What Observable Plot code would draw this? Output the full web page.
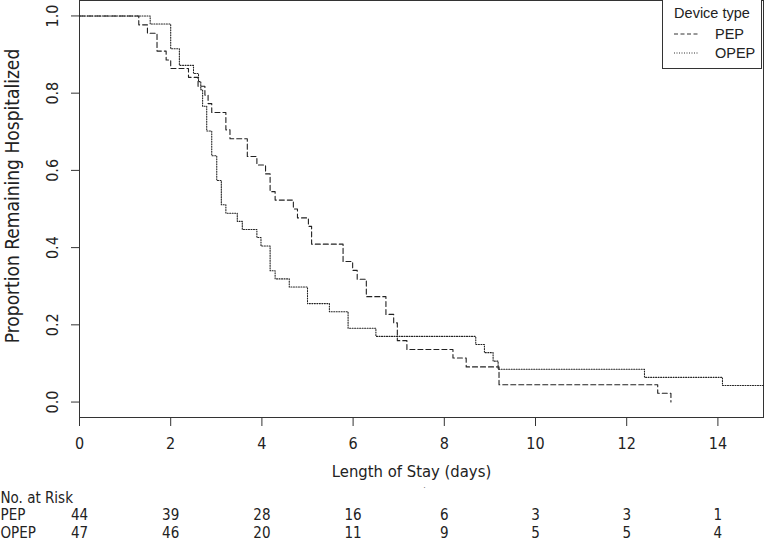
<!DOCTYPE html>
<html>
<head>
<meta charset="utf-8">
<script src="https://cdn.jsdelivr.net/npm/d3@7"></script>
<script src="https://cdn.jsdelivr.net/npm/@observablehq/plot@0.6"></script>
<style>
  html, body { margin: 0; padding: 0; background: #fff; }
  #wrap { position: relative; width: 764px; height: 542px; overflow: hidden; }
  #legend { position: absolute; left: 662px; top: -1px; width: 100px; height: 70px;
            border: 1px solid #333; background: #fff; box-sizing: border-box;
            font-family: "Liberation Sans", Arial, sans-serif; font-size: 14px; color: #222; }
</style>
</head>
<body>
<div id="wrap">
  <div id="chart"></div>
  <div id="legend">
    <svg width="100" height="70" style="position:absolute;left:-1px;top:0px">
      <text x="50" y="18" text-anchor="middle" font-size="14.5" fill="#222">Device type</text>
      <line x1="12" x2="36" y1="34" y2="34" stroke="#333" stroke-dasharray="4,2.5"></line>
      <text x="53" y="39" font-size="14.5" fill="#222">PEP</text>
      <line x1="12" x2="37" y1="53" y2="53" stroke="#333" stroke-dasharray="1,1.5"></line>
      <text x="53" y="58" font-size="14.5" fill="#222">OPEP</text>
    </svg>
  </div>
</div>
<script>
// Kaplan-Meier step data
const pepTime = [0, 1.30, 1.49, 1.70, 1.90, 2.00, 2.39, 2.60, 2.75, 2.82, 2.90, 3.21, 3.30, 3.68, 3.89, 4.08, 4.18, 4.29, 4.69, 4.78, 5.02, 5.09, 5.78, 5.99, 6.09, 6.29, 6.72, 6.89, 6.97, 7.18, 8.19, 8.48, 9.20, 12.68, 12.97];
const pepSurv = [1, 0.977, 0.955, 0.909, 0.886, 0.864, 0.841, 0.818, 0.795, 0.773, 0.750, 0.705, 0.682, 0.636, 0.614, 0.591, 0.545, 0.523, 0.500, 0.477, 0.455, 0.409, 0.364, 0.341, 0.318, 0.273, 0.227, 0.205, 0.159, 0.136, 0.114, 0.091, 0.045, 0.023, 0];
const opepTime = [0, 1.55, 2.00, 2.19, 2.50, 2.61, 2.66, 2.70, 2.79, 2.90, 3.01, 3.11, 3.21, 3.46, 3.57, 3.89, 3.98, 4.18, 4.29, 4.60, 5.00, 5.48, 5.89, 6.50, 8.69, 8.88, 9.07, 9.18, 12.39, 14.10, 15];
const opepSurv = [1, 0.979, 0.915, 0.872, 0.851, 0.830, 0.809, 0.766, 0.702, 0.638, 0.574, 0.511, 0.489, 0.468, 0.447, 0.426, 0.404, 0.340, 0.319, 0.298, 0.255, 0.234, 0.191, 0.170, 0.149, 0.128, 0.106, 0.085, 0.064, 0.043, 0.043];

const xTicks = [0, 2, 4, 6, 8, 10, 12, 14];
const yTicks = [0, 0.2, 0.4, 0.6, 0.8, 1.0];
const riskTimes = [0, 2, 4, 6, 8, 10, 12, 14];
const pepRisk = [44, 39, 28, 16, 6, 3, 3, 1];
const opepRisk = [47, 46, 20, 11, 9, 5, 5, 4];

const pep = pepTime.map((t, i) => ({t, s: pepSurv[i]}));
const opep = opepTime.map((t, i) => ({t, s: opepSurv[i]}));

const narrow = "'Liberation Sans Narrow', 'DejaVu Sans Condensed', 'Roboto Condensed', Roboto, sans-serif";
const ink = "#333";

const chart = Plot.plot({
  width: 764,
  height: 542,
  marginLeft: 79,
  marginRight: 1,
  marginTop: 0,
  marginBottom: 125,
  style: {fontFamily: "'Liberation Sans', Arial, sans-serif", background: "#fff", color: "#222"},
  x: {domain: [0, 15]},
  y: {domain: [-0.04, 1.04]},
  marks: [
    Plot.frame({stroke: ink}),
    Plot.axisX({ticks: xTicks, tickSize: 9, tickPadding: 11, label: null, fontSize: 16, fontFamily: narrow, stroke: ink, fill: "#222"}),
    Plot.axisY({ticks: yTicks, tickSize: 8, tickFormat: () => "", label: null, stroke: ink}),
    Plot.text(yTicks, {y: d => d, text: d => d.toFixed(1), frameAnchor: "left", dx: -27, rotate: -90, textAnchor: "middle", lineAnchor: "middle", fontSize: 16, fontFamily: narrow, fill: "#222"}),
    Plot.line(pep, {x: "t", y: "s", curve: "step-after", stroke: "#222", strokeWidth: 1.1, strokeDasharray: "5,3"}),
    Plot.line(opep, {x: "t", y: "s", curve: "step-after", stroke: "#222", strokeWidth: 1.1, strokeDasharray: "1,1.5"}),
    Plot.text(["Proportion Remaining Hospitalized"], {frameAnchor: "left", dx: -67, rotate: -90, textAnchor: "middle", fontSize: 19, fontFamily: narrow, fill: "#222", dy: -13}),
    Plot.text(["Length of Stay (days)"], {frameAnchor: "bottom", dy: 59, dx: -10, fontSize: 16.5, fontFamily: narrow, fill: "#222"}),
    Plot.text(["."], {frameAnchor: "bottom", dy: 70, dx: 3, fontSize: 9, fill: "#777"}),
    Plot.text(["No. at Risk"], {frameAnchor: "bottom-left", dx: -79, dy: 85, textAnchor: "start", fontSize: 15, fontFamily: narrow, fill: "#222"}),
    Plot.text(["PEP"], {frameAnchor: "bottom-left", dx: -79, dy: 102, textAnchor: "start", fontSize: 15, fontFamily: narrow, fill: "#222"}),
    Plot.text(["OPEP"], {frameAnchor: "bottom-left", dx: -79, dy: 120, textAnchor: "start", fontSize: 15, fontFamily: narrow, fill: "#222"}),
    Plot.text(riskTimes, {x: d => d, text: (d, i) => String(pepRisk[i]), frameAnchor: "bottom", dy: 102, fontSize: 15, fontFamily: narrow, fill: "#222"}),
    Plot.text(riskTimes, {x: d => d, text: (d, i) => String(opepRisk[i]), frameAnchor: "bottom", dy: 120, fontSize: 15, fontFamily: narrow, fill: "#222"})
  ]
});
document.getElementById("chart").appendChild(chart);
</script>
</body>
</html>
